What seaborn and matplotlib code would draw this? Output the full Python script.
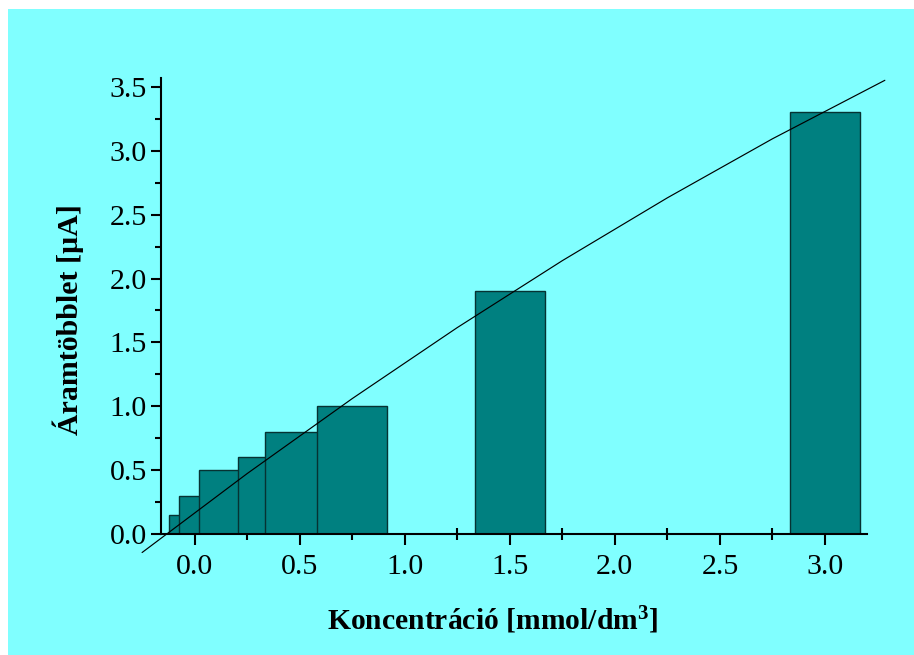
import numpy as np
import matplotlib
matplotlib.use("Agg")
import matplotlib.pyplot as plt
from matplotlib.patches import Rectangle
from matplotlib.ticker import MultipleLocator, FormatStrFormatter
import seaborn as sns

# Concentrations of the dilution series [mmol/dm3] and the measured excess current [uA]
concentration = [0.046875, 0.09375, 0.1875, 0.375, 0.5, 0.75, 1.5, 3.0]
excess_current = [0.15, 0.3, 0.5, 0.6, 0.8, 1.0, 1.9, 3.3]

# Calibration curve, sampled along its length
fit_x = [-0.25, 0.25, 0.75, 1.25, 1.75, 2.25, 2.75, 3.285]
fit_y = [-0.145, 0.473, 1.060, 1.616, 2.140, 2.632, 3.094, 3.552]

x_ticks = [0.0, 0.5, 1.0, 1.5, 2.0, 2.5, 3.0]
y_ticks = [0.0, 0.5, 1.0, 1.5, 2.0, 2.5, 3.0, 3.5]

sns.set_theme(style="ticks")
plt.rcParams["font.family"] = ["Liberation Serif", "DejaVu Serif"]
plt.rcParams["mathtext.fontset"] = "custom"
plt.rcParams["mathtext.rm"] = "Liberation Serif:bold"
plt.rcParams["mathtext.bf"] = "Liberation Serif:bold"
plt.rcParams["mathtext.default"] = "bf"

W, H = 914, 655
fig = plt.figure(figsize=(W / 100, H / 100), dpi=100, facecolor="white")
fig.patches.append(Rectangle((8 / W, 0), 1 - 8 / W, 1 - 9 / H, transform=fig.transFigure,
                             facecolor="#80FFFF", edgecolor="none", zorder=-10))

left, right, top, bottom = 161, 867, 78, 534
ax = fig.add_axes([left / W, 1 - bottom / H, (right - left) / W, (bottom - top) / H])
ax.patch.set_visible(False)

bar_width = 1 / 3
native_step = np.diff(np.unique(concentration)).min()
sns.barplot(x=concentration, y=excess_current, native_scale=True,
            width=bar_width / native_step, color="#008080", saturation=1,
            edgecolor="#063232", linewidth=1.0, errorbar=None, ax=ax)

sns.lineplot(x=fit_x, y=fit_y, sort=False, color="black", linewidth=0.85,
             errorbar=None, ax=ax)
ax.lines[-1].set_clip_on(False)
ax.lines[-1].set_zorder(5)

ax.set_xlim(-0.16, 3.2)
ax.set_ylim(0, 3.57)

ax.set_xticks(x_ticks)
ax.set_yticks(y_ticks)
ax.xaxis.set_minor_locator(MultipleLocator(0.25))
ax.yaxis.set_minor_locator(MultipleLocator(0.25))
ax.xaxis.set_major_formatter(FormatStrFormatter("%.1f"))
ax.yaxis.set_major_formatter(FormatStrFormatter("%.1f"))

for side in ("top", "right"):
    ax.spines[side].set_visible(False)
for side in ("left", "bottom"):
    ax.spines[side].set_color("black")
    ax.spines[side].set_linewidth(1.5)

ax.tick_params(axis="x", which="major", direction="out", length=7.7, width=1.5,
               color="black", labelsize=21.5, pad=6.5, labelcolor="black")
ax.tick_params(axis="x", which="minor", direction="inout", length=8, width=1.5,
               color="black")
ax.tick_params(axis="y", which="major", direction="out", length=7.2, width=1.5,
               color="black", labelsize=21.5, pad=3, labelcolor="black")
ax.tick_params(axis="y", which="minor", direction="out", length=4.3, width=1.5,
               color="black")

ax.set_xlabel("Koncentráció [mmol/dm$^{3}$]", fontsize=21.3, fontweight="bold",
              color="black")
ax.xaxis.label.set_va("baseline")
ax.xaxis.set_label_coords(0.4695, (bottom - 630) / (bottom - top))

ax.set_ylabel("Áramtöbblet [µA]", fontsize=21.5, fontweight="bold", color="black")
ax.yaxis.label.set_va("center")
ax.yaxis.set_label_coords((68 - left) / (right - left), 0.471)

fig.savefig("out.png", dpi=100, facecolor="white")
